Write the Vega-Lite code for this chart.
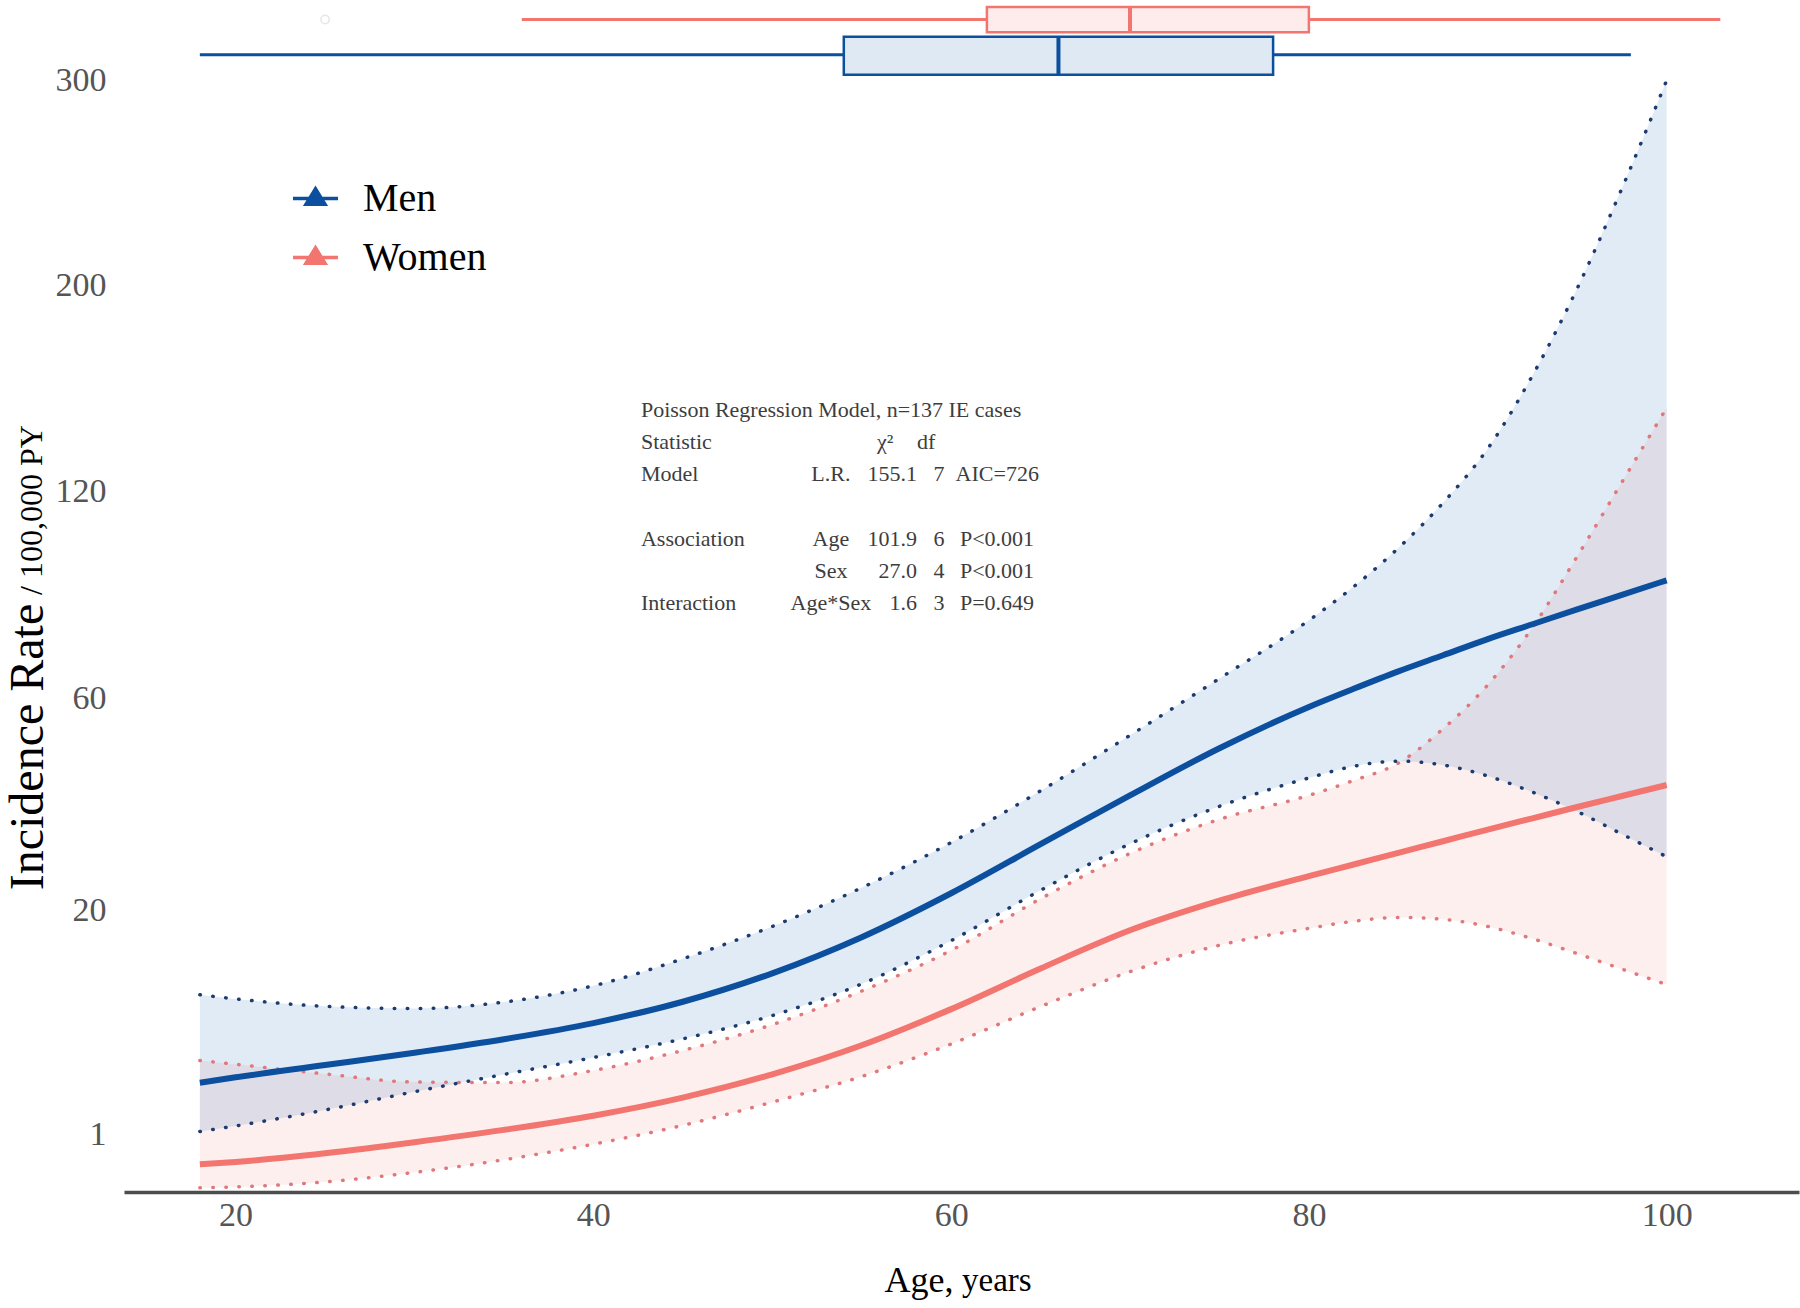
{
  "$schema": "https://vega.github.io/schema/vega-lite/v6.json",
  "width": 1675,
  "height": 1192,
  "autosize": {"type": "none"},
  "padding": {"left": 124, "top": 0, "right": 1, "bottom": 116},
  "background": "white",
  "config": {
    "view": {"stroke": null},
    "font": "Liberation Serif",
    "text": {"font": "Liberation Serif", "fontSize": 22, "color": "#3d3d3d", "baseline": "alphabetic", "lineHeight": 32.2}
  },
  "datasets": {
    "curves": [
      {"age": 18, "sex": "Men", "rate": 3.24, "lo": 1.09, "hi": 10.0},
      {"age": 20, "sex": "Men", "rate": 3.55, "lo": 1.28, "hi": 9.6},
      {"age": 25, "sex": "Men", "rate": 4.30, "lo": 1.90, "hi": 8.9},
      {"age": 30, "sex": "Men", "rate": 5.13, "lo": 2.76, "hi": 8.7},
      {"age": 35, "sex": "Men", "rate": 6.12, "lo": 3.72, "hi": 9.3},
      {"age": 40, "sex": "Men", "rate": 7.42, "lo": 4.80, "hi": 10.9},
      {"age": 45, "sex": "Men", "rate": 9.33, "lo": 6.15, "hi": 13.84},
      {"age": 50, "sex": "Men", "rate": 12.21, "lo": 8.07, "hi": 17.81},
      {"age": 55, "sex": "Men", "rate": 16.43, "lo": 11.09, "hi": 23.23},
      {"age": 60, "sex": "Men", "rate": 22.41, "lo": 16.0, "hi": 30.47},
      {"age": 65, "sex": "Men", "rate": 30.18, "lo": 22.85, "hi": 39.94},
      {"age": 70, "sex": "Men", "rate": 39.06, "lo": 30.25, "hi": 51.55},
      {"age": 75, "sex": "Men", "rate": 48.72, "lo": 36.97, "hi": 64.96},
      {"age": 80, "sex": "Men", "rate": 58.06, "lo": 42.51, "hi": 80.28},
      {"age": 82.5, "sex": "Men", "rate": 62.41, "lo": 44.89, "hi": 89.87},
      {"age": 85, "sex": "Men", "rate": 66.75, "lo": 45.97, "hi": 101.6},
      {"age": 87.5, "sex": "Men", "rate": 70.9, "lo": 45.16, "hi": 116.2},
      {"age": 90, "sex": "Men", "rate": 75.17, "lo": 42.9, "hi": 135.0},
      {"age": 92.5, "sex": "Men", "rate": 79.21, "lo": 39.69, "hi": 162.6},
      {"age": 95, "sex": "Men", "rate": 83.36, "lo": 36.0, "hi": 198.8},
      {"age": 97.5, "sex": "Men", "rate": 87.52, "lo": 31.92, "hi": 244.9},
      {"age": 100, "sex": "Men", "rate": 91.78, "lo": 28.09, "hi": 300},
      {"age": 18, "sex": "Women", "rate": 0.29, "lo": 0.03, "hi": 4.6},
      {"age": 20, "sex": "Women", "rate": 0.33, "lo": 0.035, "hi": 4.35},
      {"age": 25, "sex": "Women", "rate": 0.504, "lo": 0.07, "hi": 3.75},
      {"age": 30, "sex": "Women", "rate": 0.774, "lo": 0.17, "hi": 3.28},
      {"age": 35, "sex": "Women", "rate": 1.145, "lo": 0.37, "hi": 3.25},
      {"age": 40, "sex": "Women", "rate": 1.664, "lo": 0.72, "hi": 3.96},
      {"age": 45, "sex": "Women", "rate": 2.465, "lo": 1.30, "hi": 5.29},
      {"age": 50, "sex": "Women", "rate": 3.725, "lo": 2.25, "hi": 7.29},
      {"age": 55, "sex": "Women", "rate": 5.664, "lo": 3.6, "hi": 10.37},
      {"age": 60, "sex": "Women", "rate": 8.644, "lo": 5.76, "hi": 14.82},
      {"age": 65, "sex": "Women", "rate": 12.74, "lo": 8.88, "hi": 21.62},
      {"age": 70, "sex": "Women", "rate": 17.31, "lo": 12.39, "hi": 28.62},
      {"age": 75, "sex": "Women", "rate": 21.34, "lo": 15.44, "hi": 34.57},
      {"age": 80, "sex": "Women", "rate": 25.0, "lo": 17.56, "hi": 39.06},
      {"age": 82.5, "sex": "Women", "rate": 26.83, "lo": 18.49, "hi": 41.99},
      {"age": 85, "sex": "Women", "rate": 28.73, "lo": 19.01, "hi": 45.56},
      {"age": 87.5, "sex": "Women", "rate": 30.69, "lo": 18.75, "hi": 53.0},
      {"age": 90, "sex": "Women", "rate": 32.72, "lo": 17.81, "hi": 63.36},
      {"age": 92.5, "sex": "Women", "rate": 34.75, "lo": 16.24, "hi": 78.32},
      {"age": 95, "sex": "Women", "rate": 36.84, "lo": 14.44, "hi": 99.0},
      {"age": 97.5, "sex": "Women", "rate": 38.94, "lo": 12.67, "hi": 123.2},
      {"age": 100, "sex": "Women", "rate": 41.09, "lo": 11.02, "hi": 150.1}
    ],
    "box": [
      {"sex": "Men", "low": 18, "q1": 54, "median": 66, "q3": 78, "high": 98},
      {"sex": "Women", "low": 36, "q1": 62, "median": 70, "q3": 80, "high": 103}
    ],
    "outliers": [
      {"sex": "Women", "age": 25}
    ]
  },
  "layer": [
    {
      "data": {"name": "curves"},
      "transform": [{"filter": "datum.sex === 'Women'"}],
      "mark": {"type": "area", "interpolate": "monotone", "fill": "#f39c96", "fillOpacity": 0.16},
      "encoding": {
        "x": {
          "field": "age", "type": "quantitative",
          "scale": {"domain": [13.76, 107.4], "nice": false, "zero": false},
          "axis": {
            "title": "Age,", "values": [20, 40, 60, 80, 100], "grid": false,
            "ticks": false, "tickSize": 0, "domainColor": "#4d4d4d", "domainWidth": 3.5,
            "labelFont": "Liberation Serif", "labelFontSize": 34, "labelColor": "#555555",
            "labelPadding": 6, "labelFlush": false, "labelOverlap": false,
            "titleFont": "Liberation Serif", "titleFontSize": 36, "titleColor": "black",
            "titleFontWeight": "normal", "titleX": 829, "titleY": 99,
            "titleAlign": "right", "titleBaseline": "alphabetic"
          }
        },
        "y": {
          "field": "lo", "type": "quantitative",
          "scale": {"type": "sqrt", "domain": [0.01175, 344.7], "nice": false, "zero": false},
          "axis": {
            "title": "Incidence Rate", "values": [1, 20, 60, 120, 200, 300], "grid": false,
            "ticks": false, "tickSize": 0, "domain": false,
            "labelFont": "Liberation Serif", "labelFontSize": 34, "labelColor": "#555555",
            "labelPadding": 18, "labelFlush": false, "labelOverlap": false,
            "titleFont": "Liberation Serif", "titleFontSize": 48, "titleColor": "black",
            "titleFontWeight": "normal", "titleAngle": 270, "titleX": -82, "titleY": 746.5,
            "titleAlign": "center", "titleBaseline": "alphabetic"
          }
        },
        "y2": {"field": "hi"}
      }
    },
    {
      "data": {"name": "curves"},
      "transform": [{"filter": "datum.sex === 'Men'"}],
      "mark": {"type": "area", "interpolate": "monotone", "fill": "#4a86c5", "fillOpacity": 0.17},
      "encoding": {
        "x": {"field": "age", "type": "quantitative"},
        "y": {"field": "lo", "type": "quantitative"},
        "y2": {"field": "hi"}
      }
    },
    {
      "data": {"name": "curves"},
      "transform": [{"filter": "datum.sex === 'Women'"}, {"fold": ["lo", "hi"], "as": ["bound", "v"]}],
      "mark": {"type": "line", "interpolate": "monotone", "stroke": "#e0787b", "strokeWidth": 3.5, "strokeDash": [0.5, 12.5], "strokeCap": "round"},
      "encoding": {
        "x": {"field": "age", "type": "quantitative"},
        "y": {"field": "v", "type": "quantitative"},
        "detail": {"field": "bound"}
      }
    },
    {
      "data": {"name": "curves"},
      "transform": [{"filter": "datum.sex === 'Men'"}, {"fold": ["lo", "hi"], "as": ["bound", "v"]}],
      "mark": {"type": "line", "interpolate": "monotone", "stroke": "#1d3b6e", "strokeWidth": 3.5, "strokeDash": [0.5, 12.5], "strokeCap": "round"},
      "encoding": {
        "x": {"field": "age", "type": "quantitative"},
        "y": {"field": "v", "type": "quantitative"},
        "detail": {"field": "bound"}
      }
    },
    {
      "data": {"name": "curves"},
      "mark": {"type": "line", "interpolate": "monotone", "strokeWidth": 6},
      "encoding": {
        "x": {"field": "age", "type": "quantitative"},
        "y": {"field": "rate", "type": "quantitative"},
        "color": {
          "field": "sex", "type": "nominal",
          "scale": {"domain": ["Men", "Women"], "range": ["#0b4f9e", "#f2756f"]},
          "legend": {
            "orient": "none", "legendX": 169, "legendY": 176, "title": null, "padding": 0,
            "symbolType": "M-1,-0.075L1,-0.075L1,0.075L-1,0.075Z M0,-0.58L0.56,0.33L-0.56,0.33Z",
            "symbolSize": 2025, "symbolStrokeWidth": 0, "symbolOpacity": 1,
            "labelFont": "Liberation Serif", "labelFontSize": 40, "labelColor": "black",
            "labelOffset": 25, "rowPadding": 16, "labelLimit": 400,
            "encode": {"symbols": {"update": {
              "fill": {"scale": "color", "field": "value"},
              "fillOpacity": {"value": 1},
              "stroke": {"value": "transparent"},
              "strokeWidth": {"value": 0}
            }}}
          }
        }
      }
    },
    {
      "data": {"name": "box"},
      "transform": [{"filter": "datum.sex === 'Men'"}],
      "layer": [
        {
          "mark": {"type": "rule", "color": "#0b4f9e", "strokeWidth": 3},
          "encoding": {
            "x": {"field": "low", "type": "quantitative"},
            "x2": {"field": "high"},
            "y": {"datum": 314, "type": "quantitative"}
          }
        },
        {
          "mark": {"type": "rect", "fill": "#dfe9f4", "stroke": "#0b4f9e", "strokeWidth": 2.5},
          "encoding": {
            "x": {"field": "q1", "type": "quantitative"},
            "x2": {"field": "q3"},
            "y": {"datum": 303.1, "type": "quantitative"},
            "y2": {"datum": 323.9}
          }
        },
        {
          "mark": {"type": "rule", "color": "#0b4f9e", "strokeWidth": 4},
          "encoding": {
            "x": {"field": "median", "type": "quantitative"},
            "y": {"datum": 303.1, "type": "quantitative"},
            "y2": {"datum": 323.9}
          }
        }
      ]
    },
    {
      "data": {"name": "box"},
      "transform": [{"filter": "datum.sex === 'Women'"}],
      "layer": [
        {
          "mark": {"type": "rule", "color": "#f2756f", "strokeWidth": 3},
          "encoding": {
            "x": {"field": "low", "type": "quantitative"},
            "x2": {"field": "high"},
            "y": {"datum": 333.6, "type": "quantitative"}
          }
        },
        {
          "mark": {"type": "rect", "fill": "#fdeceb", "stroke": "#f2756f", "strokeWidth": 2.5},
          "encoding": {
            "x": {"field": "q1", "type": "quantitative"},
            "x2": {"field": "q3"},
            "y": {"datum": 326.4, "type": "quantitative"},
            "y2": {"datum": 340.7}
          }
        },
        {
          "mark": {"type": "rule", "color": "#f2756f", "strokeWidth": 4},
          "encoding": {
            "x": {"field": "median", "type": "quantitative"},
            "y": {"datum": 326.4, "type": "quantitative"},
            "y2": {"datum": 340.7}
          }
        }
      ]
    },
    {
      "data": {"name": "outliers"},
      "mark": {"type": "point", "filled": false, "stroke": "#dddddd", "strokeWidth": 1.5, "size": 70},
      "encoding": {
        "x": {"field": "age", "type": "quantitative"},
        "y": {"datum": 333.6, "type": "quantitative"}
      }
    },
    {
      "data": {"values": [{}]},
      "layer": [
        {
          "mark": {"type": "text", "align": "left", "text": ["Poisson Regression Model, n=137 IE cases", "Statistic", "Model"]},
          "encoding": {"x": {"datum": 42.66, "type": "quantitative"}, "y": {"datum": 146.6, "type": "quantitative"}}
        },
        {
          "mark": {"type": "text", "align": "left", "text": "Association"},
          "encoding": {"x": {"datum": 42.66, "type": "quantitative"}, "y": {"datum": 102.3, "type": "quantitative"}}
        },
        {
          "mark": {"type": "text", "align": "left", "text": "Interaction"},
          "encoding": {"x": {"datum": 42.66, "type": "quantitative"}, "y": {"datum": 83.13, "type": "quantitative"}}
        },
        {
          "mark": {"type": "text", "align": "center", "text": "L.R."},
          "encoding": {"x": {"datum": 53.28, "type": "quantitative"}, "y": {"datum": 123.5, "type": "quantitative"}}
        },
        {
          "mark": {"type": "text", "align": "center", "text": ["Age", "Sex", "Age*Sex"]},
          "encoding": {"x": {"datum": 53.28, "type": "quantitative"}, "y": {"datum": 102.3, "type": "quantitative"}}
        },
        {
          "mark": {"type": "text", "align": "left", "text": "χ²"},
          "encoding": {"x": {"datum": 55.85, "type": "quantitative"}, "y": {"datum": 134.8, "type": "quantitative"}}
        },
        {
          "mark": {"type": "text", "align": "left", "text": "df"},
          "encoding": {"x": {"datum": 58.09, "type": "quantitative"}, "y": {"datum": 134.8, "type": "quantitative"}}
        },
        {
          "mark": {"type": "text", "align": "right", "text": "155.1"},
          "encoding": {"x": {"datum": 58.09, "type": "quantitative"}, "y": {"datum": 123.5, "type": "quantitative"}}
        },
        {
          "mark": {"type": "text", "align": "right", "text": ["101.9", "27.0", "1.6"]},
          "encoding": {"x": {"datum": 58.09, "type": "quantitative"}, "y": {"datum": 102.3, "type": "quantitative"}}
        },
        {
          "mark": {"type": "text", "align": "center", "text": "7"},
          "encoding": {"x": {"datum": 59.32, "type": "quantitative"}, "y": {"datum": 123.5, "type": "quantitative"}}
        },
        {
          "mark": {"type": "text", "align": "center", "text": ["6", "4", "3"]},
          "encoding": {"x": {"datum": 59.32, "type": "quantitative"}, "y": {"datum": 102.3, "type": "quantitative"}}
        },
        {
          "mark": {"type": "text", "align": "left", "text": "AIC=726"},
          "encoding": {"x": {"datum": 60.25, "type": "quantitative"}, "y": {"datum": 123.5, "type": "quantitative"}}
        },
        {
          "mark": {"type": "text", "align": "left", "text": ["P<0.001", "P<0.001", "P=0.649"]},
          "encoding": {"x": {"datum": 60.49, "type": "quantitative"}, "y": {"datum": 102.3, "type": "quantitative"}}
        },
        {
          "mark": {"type": "text", "text": "years", "align": "left", "dy": 99, "fontSize": 33, "color": "black"},
          "encoding": {"x": {"datum": 60.61, "type": "quantitative"}, "y": {"datum": 0.01175, "type": "quantitative"}}
        },
        {
          "mark": {"type": "text", "text": "/ 100,000 PY", "angle": 270, "align": "center", "dy": -82, "fontSize": 32, "color": "black"},
          "encoding": {"x": {"datum": 13.76, "type": "quantitative"}, "y": {"datum": 113.8, "type": "quantitative"}}
        }
      ]
    }
  ]
}
